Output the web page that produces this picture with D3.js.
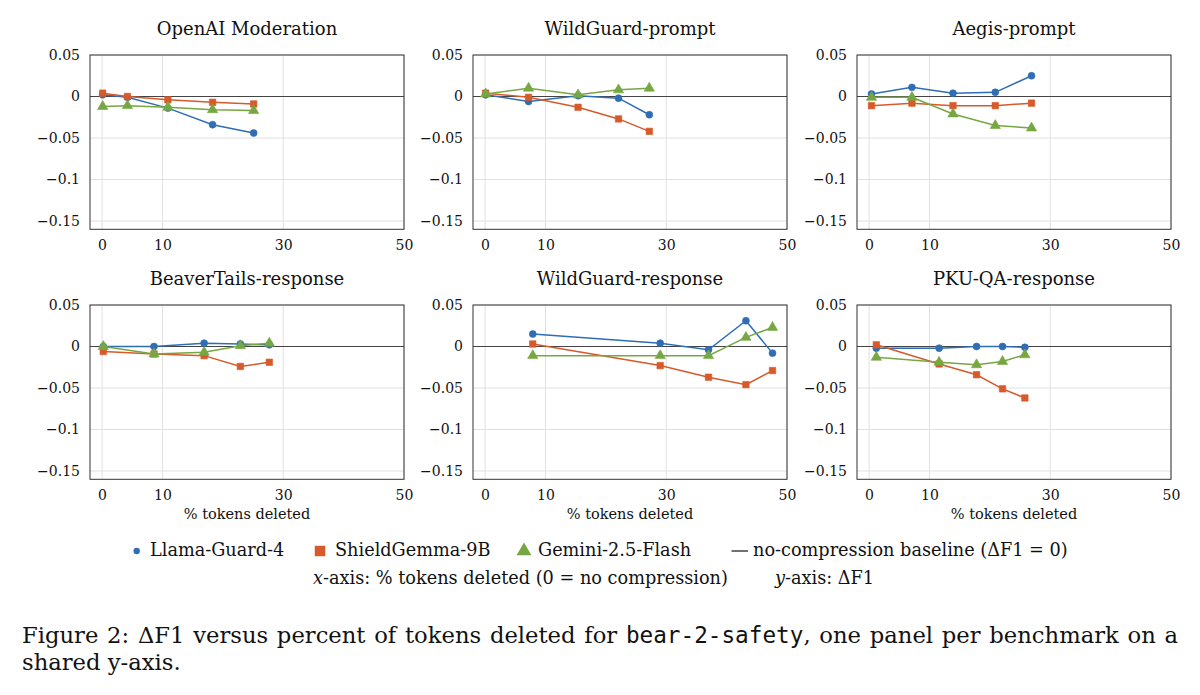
<!DOCTYPE html>
<html>
<head>
<meta charset="utf-8">
<script src="https://cdn.jsdelivr.net/npm/d3@7"></script>
<style>
  html, body { margin: 0; padding: 0; background: #ffffff; }
  svg { display: block; }
  text { font-family: "DejaVu Serif", "Liberation Serif", serif; fill: #111; }
</style>
</head>
<body>
<svg id="chart" width="1200" height="695"></svg>
<script>
// ---------------- data ----------------
const benchmarks = ["OpenAI Moderation", "WildGuard-prompt", "Aegis-prompt",
                    "BeaverTails-response", "WildGuard-response", "PKU-QA-response"];
const models = ["Llama-Guard-4", "ShieldGemma-9B", "Gemini-2.5-Flash"];
const xTicks = [0, 10, 30, 50];
const yTicks = [0.05, 0, -0.05, -0.1, -0.15];
const xDomain = [-2, 50];
const yDomain = [-0.16, 0.05];

// % tokens deleted per benchmark (one value per compression level)
const tokensDeleted = [
  [0.1, 4.2, 10.9, 18.3, 25.1],
  [0.1, 7.2, 15.4, 22.1, 27.2],
  [0.4, 7.1, 13.9, 20.9, 26.9],
  [0.2, 8.6, 16.9, 22.9, 27.7],
  [7.9, 29.0, 37.0, 43.2, 47.6],
  [1.2, 11.6, 17.8, 22.1, 25.8]
];
// ΔF1 per model, per benchmark
const llamaGuard4 = [
  [0.002, -0.001, -0.014, -0.034, -0.044],
  [0.002, -0.006, 0.001, -0.002, -0.022],
  [0.003, 0.011, 0.004, 0.005, 0.025],
  [0.000, 0.000, 0.004, 0.003, 0.002],
  [0.015, 0.004, -0.004, 0.031, -0.008],
  [-0.002, -0.002, 0.000, 0.000, -0.001]
];
const shieldGemma9B = [
  [0.004, 0.000, -0.004, -0.007, -0.009],
  [0.004, -0.001, -0.013, -0.027, -0.042],
  [-0.011, -0.008, -0.011, -0.011, -0.008],
  [-0.006, -0.009, -0.011, -0.024, -0.019],
  [0.003, -0.023, -0.037, -0.046, -0.029],
  [0.002, -0.021, -0.034, -0.051, -0.062]
];
const gemini25Flash = [
  [-0.012, -0.011, -0.013, -0.016, -0.017],
  [0.003, 0.010, 0.002, 0.008, 0.010],
  [-0.001, -0.001, -0.021, -0.035, -0.038],
  [0.000, -0.009, -0.007, 0.001, 0.004],
  [-0.011, -0.011, -0.011, 0.011, 0.023],
  [-0.013, -0.019, -0.022, -0.018, -0.010]
];
const seriesValues = [llamaGuard4, shieldGemma9B, gemini25Flash];
const baselineLabel = "no-compression baseline (ΔF1 = 0)";
const xAxisTitle = "% tokens deleted";

// ---------------- styles ----------------
const colors = ["#2f6db5", "#d65a2a", "#76a743"];
const symbols = [d3.symbolCircle, d3.symbolSquare, d3.symbolTriangle];
const symbolSizes = [38, 42, 46];

const svg = d3.select("#chart");

const colLeft = [90, 473, 857];
const rowTop = [55, 305];
const pw = 314, ph = 174.3;

const fmtY = d => d === 0 ? "0" : (d < 0 ? "\u2212" : "") + String(Math.abs(d));

benchmarks.forEach((name, i) => {
  const col = i % 3, row = Math.floor(i / 3);
  const g = svg.append("g").attr("transform", `translate(${colLeft[col]},${rowTop[row]})`);
  const x = d3.scaleLinear().domain(xDomain).range([0, pw]);
  const y = d3.scaleLinear().domain(yDomain).range([ph, 0]);

  // grid
  g.append("g").selectAll("line").data(xTicks).join("line")
    .attr("x1", d => x(d)).attr("x2", d => x(d)).attr("y1", 0).attr("y2", ph)
    .attr("stroke", "#e0e0e0").attr("stroke-width", 1);
  g.append("g").selectAll("line").data(yTicks.filter(d => d !== 0)).join("line")
    .attr("x1", 0).attr("x2", pw).attr("y1", d => y(d)).attr("y2", d => y(d))
    .attr("stroke", "#e0e0e0").attr("stroke-width", 1);

  // baseline
  g.append("line").attr("x1", 0).attr("x2", pw).attr("y1", y(0)).attr("y2", y(0))
    .attr("stroke", "#444").attr("stroke-width", 1.1);

  // axes (labels via d3 axes)
  const ax = g.append("g").attr("transform", `translate(0,${ph})`)
    .call(d3.axisBottom(x).tickValues(xTicks).tickSize(0).tickPadding(11).tickFormat(d3.format("d")));
  ax.select(".domain").remove();
  ax.selectAll("text").attr("font-size", 14).attr("font-family", "DejaVu Serif").attr("fill", "#111");

  const ay = g.append("g")
    .call(d3.axisLeft(y).tickValues(yTicks).tickSize(0).tickPadding(10).tickFormat(fmtY));
  ay.select(".domain").remove();
  ay.selectAll("text").attr("font-size", 14).attr("font-family", "DejaVu Serif").attr("fill", "#111");

  // series
  seriesValues.forEach((vals, m) => {
    const pts = tokensDeleted[i].map((t, k) => [t, vals[i][k]]);
    g.append("path").datum(pts)
      .attr("fill", "none").attr("stroke", colors[m]).attr("stroke-width", 1.5)
      .attr("d", d3.line().x(d => x(d[0])).y(d => y(d[1])));
    g.append("g").selectAll("path").data(pts).join("path")
      .attr("transform", d => `translate(${x(d[0])},${y(d[1])})`)
      .attr("d", d3.symbol().type(symbols[m]).size(symbolSizes[m]))
      .attr("fill", colors[m]).attr("stroke", colors[m]).attr("stroke-width", 0.6);
  });

  // frame
  g.append("rect").attr("x", 0).attr("y", 0).attr("width", pw).attr("height", ph)
    .attr("fill", "none").attr("stroke", "#333").attr("stroke-width", 1);

  // title
  g.append("text").attr("x", pw / 2).attr("y", -20).attr("text-anchor", "middle")
    .attr("font-size", 18).text(name);

  if (row === 1) {
    g.append("text").attr("x", pw / 2).attr("y", ph + 40).attr("text-anchor", "middle")
      .attr("font-size", 14.5).text(xAxisTitle);
  }
});

// ---------------- legend ----------------
const leg = svg.append("g");
const legY = 556;
const legMarkerX = [136.7, 320, 524];
const legTextX = [150, 335, 538];
const legSizes = [32, 110, 95];
const legTexts = [];
models.forEach((m, k) => {
  leg.append("path")
    .attr("transform", `translate(${legMarkerX[k]},${legY - 5})`)
    .attr("d", d3.symbol().type(symbols[k]).size(legSizes[k]))
    .attr("fill", colors[k]);
  legTexts.push(leg.append("text").attr("x", legTextX[k]).attr("y", legY).attr("font-size", 16).text(m));
});
leg.append("line").attr("x1", 731.5).attr("x2", 748).attr("y1", legY - 5).attr("y2", legY - 5)
  .attr("stroke", "#111").attr("stroke-width", 1.2);
const baseText = leg.append("text").attr("x", 753).attr("y", legY).attr("font-size", 16).text(baselineLabel);
legTexts.push(baseText);

const l2 = leg.append("text").attr("x", 313).attr("y", legY + 28).attr("font-size", 16);
l2.append("tspan").attr("font-style", "italic").text("x");
l2.append("tspan").text("-axis: % tokens deleted (0 = no compression)");
const l3 = leg.append("text").attr("x", 775).attr("y", legY + 28).attr("font-size", 16);
l3.append("tspan").attr("font-style", "italic").text("y");
l3.append("tspan").text("-axis: ΔF1");
legTexts.push(l2, l3);
// scale the legend font so that the baseline label spans its reference width
const legFont = 16 * 315 / baseText.node().getComputedTextLength();
legTexts.forEach(t => t.attr("font-size", legFont));

// ---------------- caption ----------------
const capFont0 = 18;
const cap1 = svg.append("text").attr("x", 22).attr("y", 643).attr("font-size", capFont0);
cap1.append("tspan").text("Figure 2: ΔF1 versus percent of tokens deleted for ");
cap1.append("tspan").attr("font-family", "DejaVu Sans Mono, Liberation Mono, monospace").text("bear-2-safety");
cap1.append("tspan").text(", one panel per benchmark on a");
const target = 1156;
const spaces = (cap1.text().match(/ /g) || []).length;
const nat0 = cap1.node().getComputedTextLength();
const capFont = capFont0 * (target - spaces * 1.5) / nat0;
cap1.attr("font-size", capFont);
const nat1 = cap1.node().getComputedTextLength();
cap1.attr("word-spacing", (target - nat1) / spaces);

svg.append("text").attr("x", 22).attr("y", 670).attr("font-size", capFont).text("shared y-axis.");
</script>
</body>
</html>
